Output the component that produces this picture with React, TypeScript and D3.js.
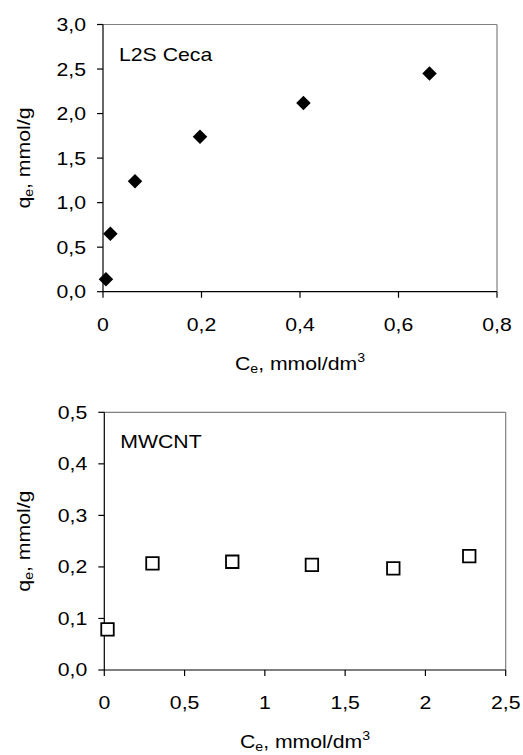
import * as d3 from "d3";

const WIDTH = 523;
const HEIGHT = 755;

// top panel: L2S Ceca
const cecaCe = [0.006, 0.015, 0.065, 0.197, 0.407, 0.663];
const cecaQe = [0.14, 0.65, 1.24, 1.74, 2.12, 2.45];
const cecaXTicks = [0, 0.2, 0.4, 0.6, 0.8];
const cecaYTicks = [0, 0.5, 1.0, 1.5, 2.0, 2.5, 3.0];

// bottom panel: MWCNT
const mwcntCe = [0.02, 0.3, 0.797, 1.293, 1.8, 2.273];
const mwcntQe = [0.079, 0.207, 0.21, 0.204, 0.197, 0.221];
const mwcntXTicks = [0, 0.5, 1, 1.5, 2, 2.5];
const mwcntYTicks = [0, 0.1, 0.2, 0.3, 0.4, 0.5];

const FONT = "'Liberation Sans', Arial, sans-serif";
const FS = 18;
const SX = 1.18; // text in the source is a bit wider than Arial

const comma = (s: string) => s.replace(".", ",");
const fmtX = (v: number) => comma(d3.format("~g")(v));
const fmtY = (v: number) => comma(d3.format(".1f")(v));

type PanelProps = {
  label: string;
  xs: number[];
  ys: number[];
  xTicks: number[];
  yTicks: number[];
  box: { left: number; right: number; top: number; bottom: number };
  marker: "diamond" | "square";
};

function Panel({ label, xs, ys, xTicks, yTicks, box, marker }: PanelProps) {
  const x = d3
    .scaleLinear()
    .domain([xTicks[0], xTicks[xTicks.length - 1]])
    .range([box.left, box.right]);
  const y = d3
    .scaleLinear()
    .domain([yTicks[0], yTicks[yTicks.length - 1]])
    .range([box.bottom, box.top]);

  const diamond = d3.symbol(d3.symbolSquare, 105)();
  const square = d3.symbol(d3.symbolSquare, 156)();

  const midX = (box.left + box.right) / 2;
  const midY = (box.top + box.bottom) / 2;

  return (
    <g fontFamily={FONT} fontSize={FS} fill="#000">
      {/* frame: top/right grey, axes black */}
      <line x1={box.left} x2={box.right} y1={box.top} y2={box.top} stroke="#808080" strokeWidth={1.2} />
      <line x1={box.right} x2={box.right} y1={box.top} y2={box.bottom} stroke="#808080" strokeWidth={1.2} />
      <line x1={box.left} x2={box.left} y1={box.top} y2={box.bottom} stroke="#000" strokeWidth={1.2} />
      <line x1={box.left} x2={box.right} y1={box.bottom} y2={box.bottom} stroke="#000" strokeWidth={1.2} />

      {yTicks.map((t) => (
        <g key={"y" + t}>
          <line x1={box.left - 6} x2={box.left} y1={y(t)} y2={y(t)} stroke="#000" strokeWidth={1.2} />
          <text
            transform={`translate(${box.left - 17},${y(t)}) scale(${SX},1)`}
            dy="0.36em"
            textAnchor="end"
          >
            {fmtY(t)}
          </text>
        </g>
      ))}

      {xTicks.map((t) => (
        <g key={"x" + t}>
          <line x1={x(t)} x2={x(t)} y1={box.bottom} y2={box.bottom + 6} stroke="#000" strokeWidth={1.2} />
          <text
            transform={`translate(${x(t)},${box.bottom + 39}) scale(${SX},1)`}
            textAnchor="middle"
          >
            {fmtX(t)}
          </text>
        </g>
      ))}

      <text transform={`translate(${box.left + 16},${box.top + 36}) scale(${SX},1)`}>{label}</text>

      {/* axis titles */}
      <text
        transform={`translate(${midX},${box.bottom + 78}) scale(${SX},1)`}
        textAnchor="middle"
      >
        C<tspan fontSize={12} dy={3}>e</tspan>
        <tspan dy={-3}>, mmol/dm</tspan>
        <tspan fontSize={12} dy={-8}>3</tspan>
      </text>
      <text
        transform={`translate(30,${midY}) rotate(-90) scale(${SX},1)`}
        textAnchor="middle"
      >
        q<tspan fontSize={12} dy={3}>e</tspan>
        <tspan dy={-3}>, mmol/g</tspan>
      </text>

      {xs.map((v, i) =>
        marker === "diamond" ? (
          <path
            key={i}
            d={diamond ?? ""}
            transform={`translate(${x(v)},${y(ys[i])}) rotate(45)`}
            fill="#000"
          />
        ) : (
          <path
            key={i}
            d={square ?? ""}
            transform={`translate(${x(v)},${y(ys[i])})`}
            fill="#fff"
            stroke="#000"
            strokeWidth={1.8}
          />
        )
      )}
    </g>
  );
}

export default function App() {
  return (
    <svg
      width={WIDTH}
      height={HEIGHT}
      style={{ position: "absolute", left: 0, top: 0, background: "#fff" }}
    >
      <rect width={WIDTH} height={HEIGHT} fill="#fff" />
      <Panel
        label="L2S Ceca"
        xs={cecaCe}
        ys={cecaQe}
        xTicks={cecaXTicks}
        yTicks={cecaYTicks}
        box={{ left: 103, right: 497, top: 24.5, bottom: 291.7 }}
        marker="diamond"
      />
      <Panel
        label="MWCNT"
        xs={mwcntCe}
        ys={mwcntQe}
        xTicks={mwcntXTicks}
        yTicks={mwcntYTicks}
        box={{ left: 104.3, right: 505.7, top: 412.3, bottom: 670 }}
        marker="square"
      />
    </svg>
  );
}
